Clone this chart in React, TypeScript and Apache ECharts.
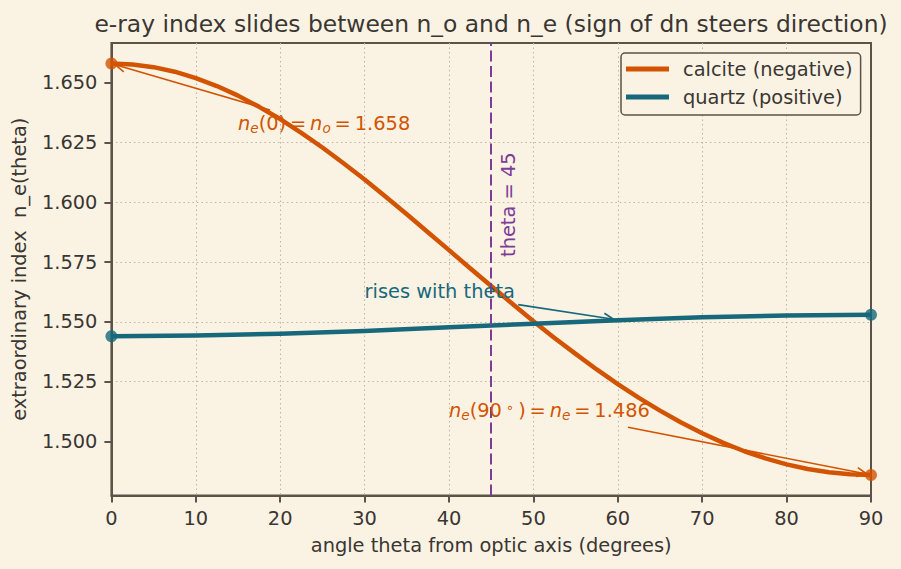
import React, { useEffect, useRef } from "react";
import * as echarts from "echarts";

// Extraordinary index n_e(theta) read at regular angles (degrees)
const calciteTheta = [
  0, 2.5, 5, 7.5, 10, 12.5, 15, 17.5, 20, 22.5, 25, 27.5, 30, 32.5, 35, 37.5, 40, 42.5, 45,
  47.5, 50, 52.5, 55, 57.5, 60, 62.5, 65, 67.5, 70, 72.5, 75, 77.5, 80, 82.5, 85, 87.5, 90,
];
const calciteIndex = [
  1.658, 1.6576, 1.6565, 1.6546, 1.6519, 1.6486, 1.6446, 1.6399, 1.6348, 1.629, 1.6229,
  1.6163, 1.6095, 1.6023, 1.595, 1.5875, 1.58, 1.5724, 1.565, 1.5576, 1.5503, 1.5433,
  1.5366, 1.5301, 1.524, 1.5182, 1.5129, 1.5079, 1.5034, 1.4994, 1.4959, 1.4929, 1.4904,
  1.4885, 1.4871, 1.4863, 1.486,
];
const quartzTheta = [0, 10, 20, 30, 40, 50, 60, 70, 80, 90];
const quartzIndex = [1.544, 1.5443, 1.545, 1.5462, 1.5477, 1.5492, 1.5507, 1.5519, 1.5527, 1.553];

const yTicks = [1.5, 1.525, 1.55, 1.575, 1.6, 1.625, 1.65];
const yRange = [1.4774, 1.6666];
const xRange = [0, 90];
const xStep = 10;
const referenceAngle = 45;

// annotation anchors in data space: [x, y]
const calciteNoLabel = [15, 1.63];
const calciteNeLabel = [40, 1.51];
const quartzLabel = [30, 1.56];
const angleLabel = [47, 1.599];
// arrows in data space: [fromX, fromY, toX, toY]
const calciteNoArrow = [18.8, 1.6386, 0.47, 1.6575];
const calciteNeArrow = [61.2, 1.5059, 89.5, 1.4864];
const quartzArrow = [48.2, 1.5572, 59.5, 1.5511];

const FONT = "DejaVu Sans";
const FS = 19.4;
const BG = "#faf3e4";
const INK = "#3a3632";
const SPINE = "#5c5248";
const GRID = "#bdb4a4";
const ORANGE = "#d35400";
const TEAL = "#17687a";
const PURPLE = "#7d3c98";

const mathRich = (color: string) => ({
  r: { fontSize: FS, lineHeight: 22, fill: color, fontFamily: FONT },
  i: { fontSize: FS, lineHeight: 22, fontStyle: "italic", fill: color, fontFamily: FONT },
  s: { fontSize: 13.6, lineHeight: 10, fontStyle: "italic", verticalAlign: "bottom", fill: color, fontFamily: FONT },
  u: { fontSize: 13.6, lineHeight: 10, verticalAlign: "top", fill: color, fontFamily: FONT },
});

function textSeries(anchor: number[], text: string, color: string, rotate = 0, align = "left", dy = -6.7) {
  return {
    type: "custom",
    silent: true,
    z: 6,
    data: [anchor],
    encode: { x: 0, y: 1 },
    renderItem: (_p: any, api: any) => {
      const p = api.coord([api.value(0), api.value(1)]);
      return {
        type: "text",
        x: p[0],
        y: p[1] + dy,
        rotation: rotate,
        style: {
          text,
          rich: mathRich(color),
          fill: color,
          fontSize: FS,
          fontFamily: FONT,
          align,
          verticalAlign: "middle",
        },
      };
    },
  };
}

function arrowSeries(arrow: number[], color: string) {
  return {
    type: "custom",
    silent: true,
    z: 5,
    data: [arrow],
    encode: { x: [0, 2], y: [1, 3] },
    renderItem: (_p: any, api: any) => {
      const a = api.coord([api.value(0), api.value(1)]);
      const b = api.coord([api.value(2), api.value(3)]);
      const ang = Math.atan2(b[1] - a[1], b[0] - a[0]);
      const L = 10;
      const W = 4.5;
      const bx = b[0] - L * Math.cos(ang);
      const by = b[1] - L * Math.sin(ang);
      const nx = -Math.sin(ang);
      const ny = Math.cos(ang);
      return {
        type: "group",
        children: [
          {
            type: "line",
            shape: { x1: a[0], y1: a[1], x2: b[0], y2: b[1] },
            style: { stroke: color, lineWidth: 1.6 },
          },
          {
            type: "polyline",
            shape: { points: [[bx + nx * W, by + ny * W], [b[0], b[1]], [bx - nx * W, by - ny * W]] },
            style: { stroke: color, lineWidth: 1.6, fill: "none" },
          },
        ],
      };
    },
  };
}

const zip = (xs: number[], ys: number[]) => xs.map((x, i) => [x, ys[i]]);
const ends = (xs: number[], ys: number[]) => [
  [xs[0], ys[0]],
  [xs[xs.length - 1], ys[ys.length - 1]],
];

export default function App() {
  const ref = useRef<HTMLDivElement>(null);

  useEffect(() => {
    document.body.style.margin = "0";
    if (!ref.current) return;
    const chart = echarts.init(ref.current, null, { renderer: "svg" });

    const gridLeft = 111;
    const gridRight = 30;
    const width = 901;

    chart.setOption({
      animation: false,
      backgroundColor: BG,
      textStyle: { fontFamily: FONT },
      graphic: [
        {
          type: "text",
          x: gridLeft + (width - gridLeft - gridRight) / 2,
          y: 24,
          style: {
            text: "e-ray index slides between n_o and n_e (sign of dn steers direction)",
            fontSize: 23.4,
            fontFamily: FONT,
            fill: INK,
            align: "center",
            verticalAlign: "middle",
          },
        },
      ],
      grid: {
        left: gridLeft,
        right: gridRight,
        top: 43,
        bottom: 73.5,
        show: true,
        borderColor: SPINE,
        borderWidth: 2,
        backgroundColor: "transparent",
      },
      legend: {
        data: ["calcite (negative)", "quartz (positive)"],
        orient: "vertical",
        left: 621,
        top: 53,
        icon: "rect",
        itemWidth: 43,
        itemHeight: 5,
        itemGap: 6,
        padding: [5, 8, 7, 5],
        backgroundColor: BG,
        borderColor: SPINE,
        borderWidth: 1.5,
        borderRadius: 4,
        textStyle: { fontSize: FS, color: INK, lineHeight: 22, fontFamily: FONT, padding: [0, 0, 0, 9] },
      },
      xAxis: {
        type: "value",
        min: xRange[0],
        max: xRange[1],
        interval: xStep,
        name: "angle theta from optic axis (degrees)",
        nameLocation: "middle",
        nameGap: 38,
        nameTextStyle: { fontSize: FS, color: INK, lineHeight: 23, fontFamily: FONT },
        axisLine: { show: true, lineStyle: { color: SPINE, width: 2 } },
        axisTick: { show: true, length: 7, lineStyle: { color: SPINE, width: 2 } },
        axisLabel: { fontSize: FS, color: INK, margin: 12, lineHeight: 22, fontFamily: FONT },
        splitLine: {
          show: true,
          showMinLine: false,
          showMaxLine: false,
          lineStyle: { color: GRID, width: 1, type: [1.5, 3] },
        },
      },
      yAxis: {
        type: "value",
        min: yRange[0],
        max: yRange[1],
        name: "extraordinary index  n_e(theta)",
        nameLocation: "middle",
        nameGap: 78,
        nameTextStyle: { fontSize: FS, color: INK, lineHeight: 23, fontFamily: FONT },
        axisLine: { show: true, lineStyle: { color: SPINE, width: 2 } },
        axisTick: { show: true, length: 7, customValues: yTicks, lineStyle: { color: SPINE, width: 2 } },
        axisLabel: {
          fontSize: FS,
          color: INK,
          margin: 14,
          fontFamily: FONT,
          customValues: yTicks,
          formatter: (v: number) => v.toFixed(3),
        },
        splitLine: {
          show: true,
          showMinLine: false,
          showMaxLine: false,
          lineStyle: { color: GRID, width: 1, type: [1.5, 3] },
        },
      },
      series: [
        {
          name: "calcite (negative)",
          type: "line",
          data: zip(calciteTheta, calciteIndex),
          symbol: "none",
          smooth: false,
          lineStyle: { color: ORANGE, width: 4.5, join: "round" },
          itemStyle: { color: ORANGE },
          z: 3,
          markLine: {
            silent: true,
            symbol: ["none", "none"],
            label: { show: false },
            lineStyle: { color: PURPLE, width: 2, type: [11, 4.5] },
            data: [{ xAxis: referenceAngle }],
          },
        },
        {
          name: "quartz (positive)",
          type: "line",
          data: zip(quartzTheta, quartzIndex),
          symbol: "none",
          smooth: false,
          lineStyle: { color: TEAL, width: 4.5, join: "round" },
          itemStyle: { color: TEAL },
          z: 3,
        },
        {
          type: "scatter",
          data: ends(calciteTheta, calciteIndex),
          symbolSize: 12,
          itemStyle: { color: ORANGE },
          z: 4,
          silent: true,
        },
        {
          type: "scatter",
          data: ends(quartzTheta, quartzIndex),
          symbolSize: 12,
          itemStyle: { color: TEAL },
          z: 4,
          silent: true,
        },
        arrowSeries(calciteNoArrow, ORANGE),
        arrowSeries(calciteNeArrow, ORANGE),
        arrowSeries(quartzArrow, TEAL),
        textSeries(calciteNoLabel, "{i|n}{s|e}{r|(0)\u2009=\u2009}{i|n}{s|o}{r|\u2009=\u20091.658}", ORANGE),
        textSeries(
          calciteNeLabel,
          "{i|n}{s|e}{r|(90\u2009}{u|\u2218}{r|\u2009)\u2009=\u2009}{i|n}{s|e}{r|\u2009=\u20091.486}",
          ORANGE
        ),
        textSeries(quartzLabel, "rises with theta", TEAL),
        textSeries(angleLabel, "theta = 45", PURPLE, Math.PI / 2, "center", 0),
      ],
    });

    return () => chart.dispose();
  }, []);

  return (
    <div
      ref={ref}
      style={{ width: 901, height: 569, position: "absolute", left: 0, top: 0 }}
    />
  );
}
